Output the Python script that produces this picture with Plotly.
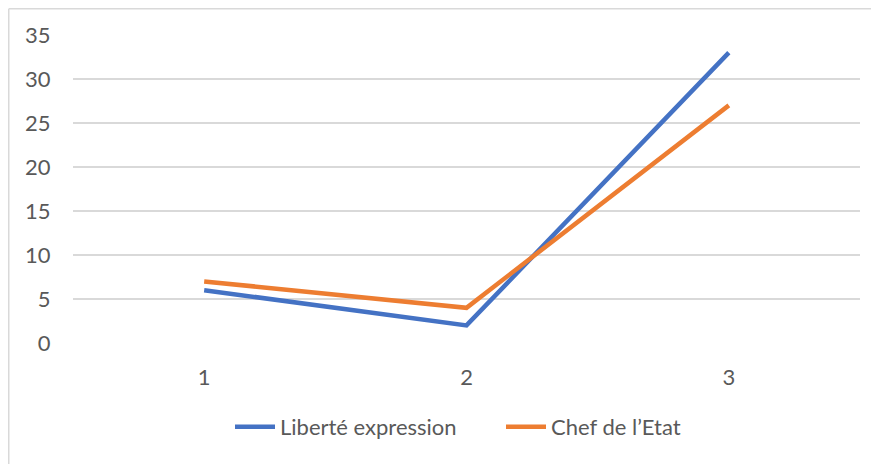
import plotly.graph_objects as go

categories = [1, 2, 3]
liberte_expression = [6, 2, 33]
chef_etat = [7, 4, 27]
y_ticks = [0, 5, 10, 15, 20, 25, 30, 35]
series_names = ["Liberté expression", "Chef de l’Etat"]

# page body has an 8px margin; compensate so the screenshot lines up
OFF = 8
W, H = 879, 464
PL, PR_X, PT, PB_Y = 73, 860, 35, 343   # plot area in screen pixels
pw = PR_X - PL
ph = PB_Y - PT
L = PL - OFF
T = PT - OFF
R = W - L - pw
B = H - T - ph


def px_x(p):
    return (p - PL) / pw


def px_y(p):
    return (PB_Y - p) / ph


fig = go.Figure()
fig.add_trace(go.Scatter(x=categories, y=liberte_expression, mode="lines",
                         name=series_names[0],
                         line=dict(color="#4472C4", width=4.5)))
fig.add_trace(go.Scatter(x=categories, y=chef_etat, mode="lines",
                         name=series_names[1],
                         line=dict(color="#ED7D31", width=4.5)))

# chart border (left and top edges visible)
fig.add_shape(type="line", xref="paper", yref="paper",
              x0=px_x(8.75), x1=px_x(8.75), y0=px_y(H + 20), y1=px_y(8.75),
              line=dict(color="#D9D9D9", width=1.5), layer="below")
fig.add_shape(type="line", xref="paper", yref="paper",
              x0=px_x(8.75), x1=px_x(W + 20), y0=px_y(8.75), y1=px_y(8.75),
              line=dict(color="#D9D9D9", width=1.5), layer="below")

fig.update_layout(
    width=W, height=H,
    margin=dict(l=L, r=R, t=T, b=B, autoexpand=False),
    paper_bgcolor="white", plot_bgcolor="white",
    font=dict(family="Lato, Carlito, sans-serif", size=22, color="#595959"),
    showlegend=True,
    legend=dict(orientation="h", x=px_x(230), xanchor="left",
                y=px_y(427), yanchor="middle",
                font=dict(size=22, color="#595959"), itemwidth=40,
                entrywidth=216, entrywidthmode="pixels",
                bgcolor="rgba(0,0,0,0)"),
    xaxis=dict(range=[0.5, 3.5], tickmode="array", tickvals=categories,
               ticktext=[str(c) for c in categories],
               showgrid=False, zeroline=False, showline=False,
               ticks="outside", ticklen=15, tickcolor="rgba(0,0,0,0)"),
    yaxis=dict(range=[0, 35], tickmode="array", tickvals=y_ticks,
               showgrid=True, gridcolor="#D9D9D9", gridwidth=1.5,
               zeroline=False, showline=False,
               ticks="outside", ticklen=17, tickcolor="rgba(0,0,0,0)"),
)
fig.write_html("out.html")
